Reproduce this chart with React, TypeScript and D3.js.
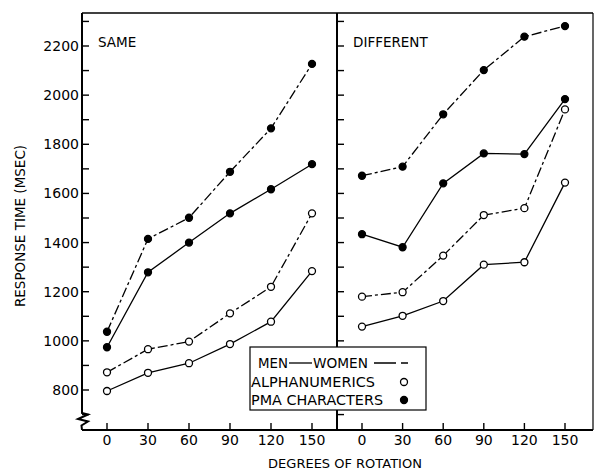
import React from 'react';
import * as d3 from 'd3';

const angles = [0, 30, 60, 90, 120, 150];
const yTickLabels = [800, 1000, 1200, 1400, 1600, 1800, 2000, 2200];
const yMinorTicks = [700, 800, 900, 1000, 1100, 1200, 1300, 1400, 1500, 1600, 1700, 1800, 1900, 2000, 2100, 2200, 2300];

// SAME panel
const sameMenAlpha = [796, 870, 909, 987, 1078, 1284];
const sameWomenAlpha = [872, 966, 997, 1112, 1220, 1519];
const sameMenPma = [974, 1279, 1400, 1519, 1617, 1719];
const sameWomenPma = [1037, 1415, 1501, 1688, 1865, 2127];

// DIFFERENT panel
const diffMenAlpha = [1058, 1102, 1162, 1310, 1320, 1644];
const diffWomenAlpha = [1180, 1198, 1347, 1512, 1540, 1942];
const diffMenPma = [1434, 1381, 1641, 1763, 1760, 1984];
const diffWomenPma = [1672, 1709, 1922, 2102, 2238, 2281];

const font = '"DejaVu Sans", sans-serif';
const WOMEN_DASH = '10 3 3 3';

type Series = { values: number[]; women: boolean; filled: boolean };

const App = () => {
  const y = d3.scaleLinear().domain([800, 2200]).range([390, 46]);
  const xLeft = d3.scaleLinear().domain([0, 150]).range([107, 312]);
  const xRight = d3.scaleLinear().domain([0, 150]).range([362, 565]);

  const top = 13;
  const base = 430;
  const leftAxis = 82;
  const divider = 337;
  const rightEdge = 593;

  const panels = [
    {
      x: xLeft,
      title: 'SAME',
      series: [
        { values: sameMenAlpha, women: false, filled: false },
        { values: sameWomenAlpha, women: true, filled: false },
        { values: sameMenPma, women: false, filled: true },
        { values: sameWomenPma, women: true, filled: true },
      ] as Series[],
    },
    {
      x: xRight,
      title: 'DIFFERENT',
      series: [
        { values: diffMenAlpha, women: false, filled: false },
        { values: diffWomenAlpha, women: true, filled: false },
        { values: diffMenPma, women: false, filled: true },
        { values: diffWomenPma, women: true, filled: true },
      ] as Series[],
    },
  ];

  return (
    <svg width={595} height={470} style={{ display: 'block', position: 'absolute', left: 0, top: 0, background: '#fff' }}>
      {/* frame */}
      <line x1={leftAxis} x2={rightEdge} y1={top} y2={top} stroke="#000" strokeWidth={1.6} />
      <line x1={rightEdge} x2={rightEdge} y1={top} y2={base} stroke="#000" strokeWidth={1.2} />
      <path
        d={`M${leftAxis},${top} L${leftAxis},413 L88,414.5 L78,419 L88,421.5 L81.5,425.5 L82,${base}`}
        fill="none"
        stroke="#000"
        strokeWidth={2}
      />
      <line x1={leftAxis} x2={rightEdge} y1={base} y2={base} stroke="#000" strokeWidth={1.8} />
      <line x1={divider} x2={divider} y1={top} y2={base} stroke="#000" strokeWidth={2} />

      {/* y ticks */}
      {yMinorTicks.map((t) => (
        <g key={t}>
          <line x1={leftAxis} x2={leftAxis + 7} y1={y(t)} y2={y(t)} stroke="#000" strokeWidth={1.4} />
          <line x1={divider} x2={divider + 7} y1={y(t)} y2={y(t)} stroke="#000" strokeWidth={1.4} />
        </g>
      ))}
      {yTickLabels.map((t) => (
        <text key={t} x={79} y={y(t)} dy="0.36em" textAnchor="end" fontFamily={font} fontSize={14}>
          {t}
        </text>
      ))}
      <text
        transform="translate(25,226) rotate(-90)"
        textAnchor="middle"
        fontFamily={font}
        fontSize={13.5}
      >
        RESPONSE TIME (MSEC)
      </text>

      {panels.map((p) => {
        const line = d3
          .line<number>()
          .x((_, i) => p.x(angles[i]))
          .y((d) => y(d));
        return (
          <g key={p.title}>
            <text x={p.x(0) - 9} y={46.5} fontFamily={font} fontSize={13.5}>
              {p.title}
            </text>
            {angles.map((a) => (
              <g key={a}>
                <line x1={p.x(a)} x2={p.x(a)} y1={base - 7} y2={base} stroke="#000" strokeWidth={1.4} />
                <text x={p.x(a)} y={440} dy="0.36em" textAnchor="middle" fontFamily={font} fontSize={14}>
                  {a}
                </text>
              </g>
            ))}
            {p.series.map((s, k) => (
              <g key={k}>
                <path
                  d={line(s.values) || ''}
                  fill="none"
                  stroke="#000"
                  strokeWidth={1.3}
                  strokeDasharray={s.women ? WOMEN_DASH : undefined}
                />
                {s.values.map((v, i) => (
                  <circle
                    key={i}
                    cx={p.x(angles[i])}
                    cy={y(v)}
                    r={3.5}
                    fill={s.filled ? '#000' : '#fff'}
                    stroke="#000"
                    strokeWidth={1.3}
                  />
                ))}
              </g>
            ))}
          </g>
        );
      })}

      <text x={345} y={463} textAnchor="middle" dy="0.36em" fontFamily={font} fontSize={13}>
        DEGREES OF ROTATION
      </text>

      {/* legend */}
      <g fontFamily={font} fontSize={14.5}>
        <rect x={250} y={347} width={176} height={63} fill="#fff" stroke="#000" strokeWidth={1.2} />
        <text x={258} y={363} dy="0.36em" textLength={30} lengthAdjust="spacingAndGlyphs">MEN</text>
        <line x1={289} x2={312} y1={363} y2={363} stroke="#000" strokeWidth={1.3} />
        <text x={313} y={363} dy="0.36em" textLength={55} lengthAdjust="spacingAndGlyphs">WOMEN</text>
        <line x1={374} x2={408} y1={363} y2={363} stroke="#000" strokeWidth={1.3} strokeDasharray="22 5 7 10" />
        <text x={251} y={382} dy="0.36em" textLength={124} lengthAdjust="spacingAndGlyphs">ALPHANUMERICS</text>
        <circle cx={404} cy={382} r={3.5} fill="#fff" stroke="#000" strokeWidth={1.3} />
        <text x={251} y={400} dy="0.36em" textLength={132} lengthAdjust="spacingAndGlyphs">PMA CHARACTERS</text>
        <circle cx={404} cy={400} r={3.5} fill="#000" stroke="#000" strokeWidth={1.3} />
      </g>
    </svg>
  );
};

export default App;
